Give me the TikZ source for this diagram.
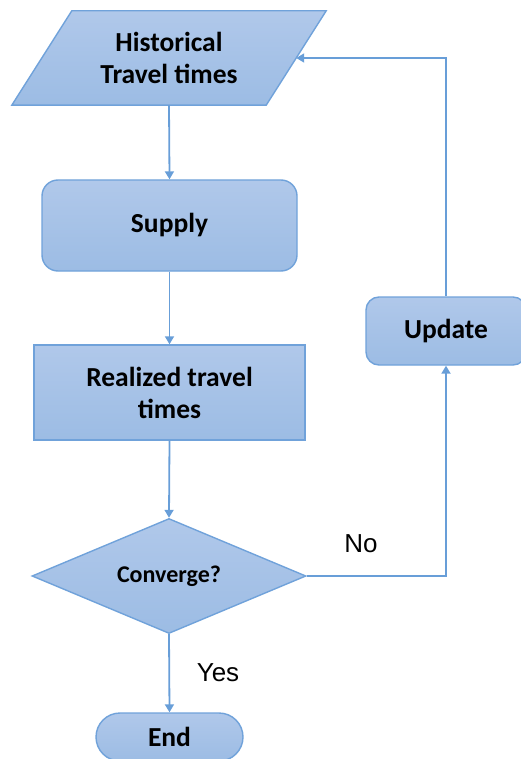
\documentclass[tikz,border=0pt]{standalone}
\usepackage{fontspec}
\setmainfont{Carlito}
\newfontfamily\helv{Liberation Sans}
\usetikzlibrary{shapes.geometric,arrows.meta,backgrounds}
\definecolor{fillA}{RGB}{176,200,234}
\definecolor{fillB}{RGB}{156,188,228}
\definecolor{edgec}{RGB}{112,162,218}
\definecolor{linec}{RGB}{104,158,216}
\tikzset{
  boxshape/.style={draw=edgec, line width=1.4pt, top color=fillA, bottom color=fillB, font=\bfseries\fontsize{27.5}{32}\selectfont, align=center, inner sep=0pt},
  conn/.style={draw=linec, line width=1.8pt, -{Triangle[length=8pt,width=9pt]}},
  lbl/.style={font=\helv\fontsize{26}{30}\selectfont, inner sep=0pt}
}
\begin{document}
\begin{tikzpicture}[x=1pt,y=-1pt]
\useasboundingbox (0,0) rectangle (520,759);
\node[minimum width=254pt, minimum height=94pt, inner sep=0pt, font=\bfseries\fontsize{27.5}{32}\selectfont, align=center] (hist) at (169,58) {Historical\\Travel times};
\begin{scope}[on background layer]
\draw[boxshape] ([xshift=-30pt]hist.south west) -- ([xshift=30pt]hist.north west) -- ([xshift=30pt]hist.north east) -- ([xshift=-30pt]hist.south east) -- cycle;
\end{scope}
\node[boxshape, minimum width=255pt, minimum height=91pt, rounded corners=16pt] (supply) at (169.5,225.5) {Supply};
\node[boxshape, minimum width=271pt, minimum height=95pt] (real) at (169.5,392.5) {Realized travel\\times};
\node[boxshape, shape=diamond, minimum width=274pt, minimum height=115pt, aspect=2.38, font=\bfseries\fontsize{24}{28}\selectfont] (conv) at (169,576) {Converge?};
\node[boxshape, minimum width=147pt, minimum height=48pt, rounded corners=24pt] (endn) at (169.5,737) {End};
\node[boxshape, minimum width=160pt, minimum height=68pt, rounded corners=13pt] (upd) at (446,331) {Update};
\coordinate (c1) at (446,576);
\coordinate (c2) at (446,58);
\draw[conn] (hist.south) -- (supply.north);
\draw[conn] (supply.south) -- (real.north);
\draw[conn] (real.south) -- (conv.north);
\draw[conn] (conv.south) -- (endn.north);
\draw[conn] (conv.east) -- (c1) -- (upd.south);
\draw[conn] (upd.north) -- (c2) -- (hist.east);
\node[lbl] (no) at (361,544) {No};
\node[lbl] (yes) at (218,673) {Yes};
\end{tikzpicture}
\end{document}
